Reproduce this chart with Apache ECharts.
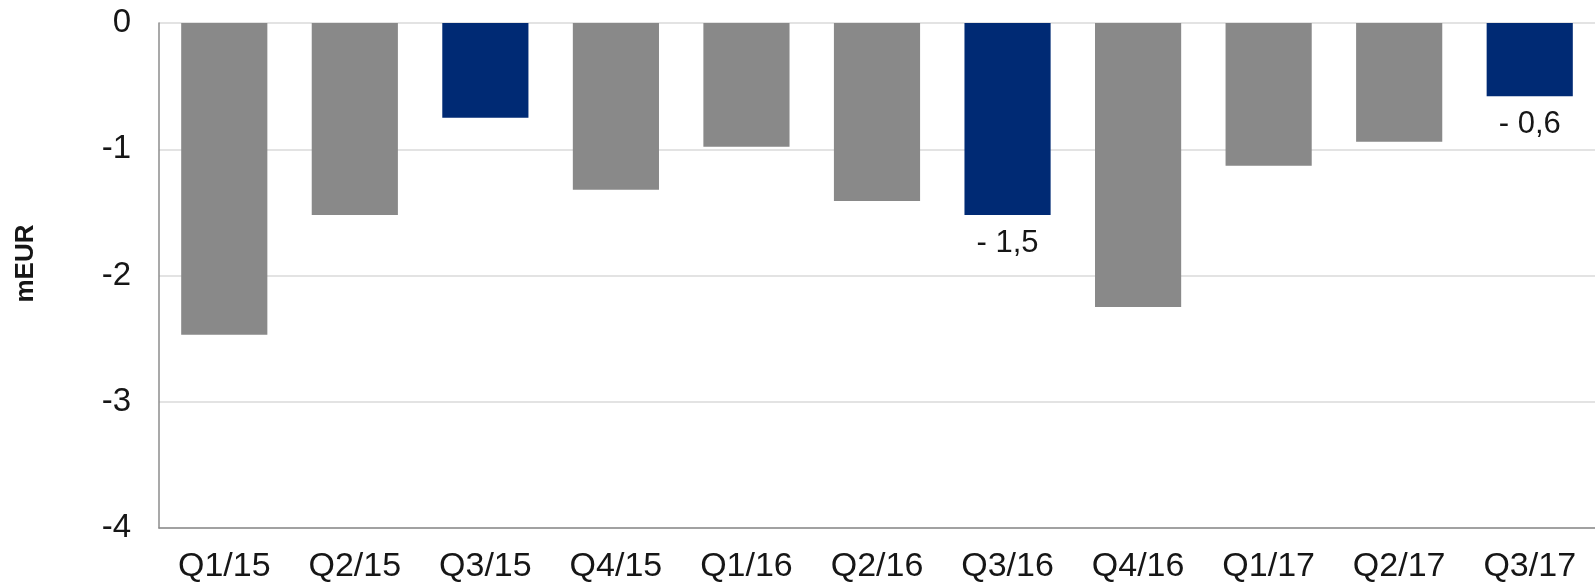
<!DOCTYPE html>
<html>
<head>
<meta charset="utf-8">
<script src="https://cdn.jsdelivr.net/npm/echarts@6/dist/echarts.min.js"></script>
<style>
  html, body { margin: 0; padding: 0; background: #fff; }
  #chart { width: 1595px; height: 585px; }
</style>
</head>
<body>
<div id="chart"></div>
<script>
const categories = ['Q1/15', 'Q2/15', 'Q3/15', 'Q4/15', 'Q1/16', 'Q2/16', 'Q3/16', 'Q4/16', 'Q1/17', 'Q2/17', 'Q3/17'];
const values = [-2.47, -1.52, -0.75, -1.32, -0.98, -1.41, -1.52, -2.25, -1.13, -0.94, -0.58];
// which quarters are highlighted (Q3) and which carry a label
const highlight = [false, false, true, false, false, false, true, false, false, false, true];
const barLabels = ['', '', '', '', '', '', '- 1,5', '', '', '', '- 0,6'];
const yTicks = [-4, -3, -2, -1, 0];

const GRAY = '#898989';
const NAVY = '#002a74';
const TEXT = '#161616';
const FONT = 'Liberation Sans, Arial, sans-serif';

let myChart = echarts.init(document.getElementById('chart'));

myChart.setOption({
  backgroundColor: '#fff',
  animation: false,
  grid: { left: 159, right: -8, top: 23, bottom: 57, containLabel: false },
  xAxis: {
    type: 'category',
    data: categories,
    position: 'bottom',
    axisLine: { onZero: false, lineStyle: { color: '#8c8c8c', width: 1.5 } },
    axisTick: { show: false },
    axisLabel: { color: TEXT, fontSize: 34, fontFamily: FONT, margin: 22 }
  },
  yAxis: {
    type: 'value',
    min: yTicks[0],
    max: yTicks[yTicks.length - 1],
    interval: 1,
    name: 'mEUR',
    nameLocation: 'middle',
    nameGap: 120,
    nameTextStyle: { color: TEXT, fontSize: 26, fontWeight: 'bold', fontFamily: FONT, padding: [0, 0, 0, 24] },
    axisLine: { show: true, lineStyle: { color: '#8c8c8c', width: 1.5 } },
    axisTick: { show: false },
    splitLine: { lineStyle: { color: '#dadada', width: 1.5 } },
    axisLabel: { color: TEXT, fontSize: 33, fontFamily: FONT, margin: 28 }
  },
  series: [{
    type: 'bar',
    barCategoryGap: '34%',
    data: values.map(function (v, i) {
      return {
        value: v,
        itemStyle: { color: highlight[i] ? NAVY : GRAY },
        label: {
          show: barLabels[i] !== '',
          position: 'bottom',
          distance: 13,
          formatter: barLabels[i],
          color: TEXT,
          fontSize: 31,
          fontFamily: FONT
        }
      };
    })
  }]
});
</script>
</body>
</html>
